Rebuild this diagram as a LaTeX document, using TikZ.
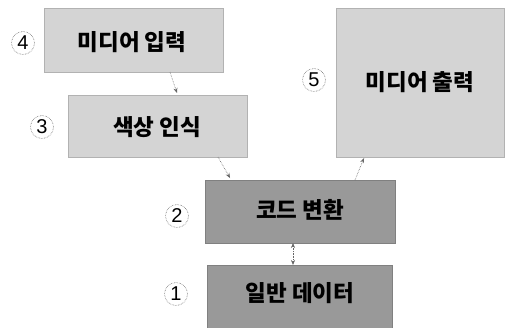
\documentclass[tikz,border=0pt]{standalone}
\usepackage{fontspec}
\setmainfont{Liberation Sans}
\newfontfamily\kr{Noto Sans CJK KR}
\usetikzlibrary{arrows.meta}
\begin{document}
\begin{tikzpicture}[x=1pt,y=-1pt,
  lightbox/.style={fill=black!17, draw=black!30, line width=0.4pt},
  darkbox/.style={fill=black!40, draw=black!50, line width=0.4pt},
  boxtext/.style={font=\kr\bfseries\fontsize{22.5}{22.5}\selectfont, text=black},
  num/.style={circle, draw=black!55, densely dotted, line width=0.6pt, minimum size=23pt, inner sep=0pt, font=\fontsize{20}{20}\selectfont},
  conn/.style={densely dotted, draw=black!60, line width=0.6pt, -{Stealth[length=5pt,width=4pt]}},
]
\useasboundingbox (0,0) rectangle (508,327);
% boxes
\fill[white] (0,0) rectangle (508,327);
\draw[lightbox] (44,8) rectangle (223,72);
\node[boxtext] (b4) at (132,42) {미디어 입력};
\coordinate (b4s) at (170,72);
\draw[lightbox] (68,95) rectangle (247,157);
\node[boxtext] (b3) at (157,127) {색상 인식};
\coordinate (b3n) at (177,93);
\coordinate (b3s) at (218,157);
\draw[lightbox] (336,8) rectangle (504,157);
\node[boxtext] (b5) at (420,82) {미디어 출력};
\coordinate (b5s) at (364,158);
\draw[darkbox] (205,180) rectangle (395,243);
\node[boxtext] (b2) at (300,210) {코드 변환};
\coordinate (b2nw) at (230,178);
\coordinate (b2ne) at (355,180);
\coordinate (b2s) at (293,243);
\draw[darkbox] (207,265) rectangle (392,328);
\node[boxtext] (b1) at (300,293) {일반 데이터};
\coordinate (b1n) at (293,265);
% numbers
\node[num] (n4) at (23,43) {4};
\node[num] (n3) at (42,127) {3};
\node[num] (n5) at (314,80) {5};
\node[num] (n2) at (177,216) {2};
\node[num] (n1) at (176,294) {1};
% connectors
\draw[conn] (b4s) -- (b3n);
\draw[conn] (b3s) -- (b2nw);
\draw[conn] (b2ne) -- (b5s);
\draw[conn, {Stealth[length=5pt,width=4pt]}-{Stealth[length=5pt,width=4pt]}] (b2s) -- (b1n);
\end{tikzpicture}
\end{document}
